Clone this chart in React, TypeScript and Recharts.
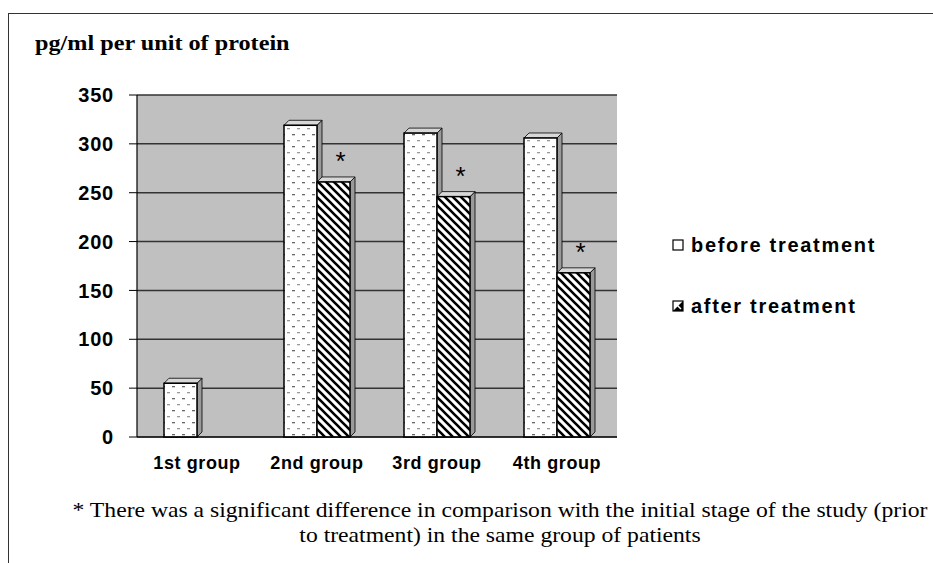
import React from 'react';
import { BarChart, Bar, XAxis, YAxis, CartesianGrid, LabelList } from 'recharts';

const categories = ['1st group', '2nd group', '3rd group', '4th group'];
const beforeValues = [55, 319, 311, 306];
const afterValues = [0, 261, 246, 168];
const significant = [false, true, true, true];
const yTicks = [0, 50, 100, 150, 200, 250, 300, 350];

const data = categories.map((name, i) => ({
  name,
  before: beforeValues[i],
  after: afterValues[i],
}));

const SANS = '"Liberation Sans", Arial, sans-serif';
const SERIF = '"Liberation Serif", "Times New Roman", serif';

const Bar3D = (props: any) => {
  const { x, y, width, height, fill } = props;
  if (!height || height < 1) return null;
  const d = 5;
  return (
    <g>
      <polygon
        points={`${x + width},${y} ${x + width + d},${y - d} ${x + width + d},${y + height - d} ${x + width},${y + height}`}
        fill="#9a9a9a"
        stroke="#000"
        strokeWidth={0.8}
      />
      <polygon
        points={`${x},${y} ${x + d},${y - d} ${x + width + d},${y - d} ${x + width},${y}`}
        fill="#d8d8d8"
        stroke="#000"
        strokeWidth={0.8}
      />
      <rect x={x} y={y} width={width} height={height} fill={fill} stroke="#000" strokeWidth={1.5} />
    </g>
  );
};

const Star = (props: any) => {
  const { x, y, width, index } = props;
  if (!significant[index]) return null;
  return (
    <text
      x={x + width / 2 + 7}
      y={y - 12}
      textAnchor="middle"
      fontFamily={SANS}
      fontSize={26}
      fill="#000"
    >
      *
    </text>
  );
};

const LegendBox = () => (
  <div
    style={{
      position: 'absolute',
      left: 672,
      top: 233,
      fontFamily: SANS,
      fontWeight: 'bold',
      fontSize: 20,
      letterSpacing: 1.7,
      color: '#000',
      whiteSpace: 'nowrap',
    }}
  >
    <div style={{ display: 'flex', alignItems: 'center', height: 24 }}>
      <svg width={13} height={13} style={{ marginRight: 6 }}>
        <rect x={1} y={1} width={10} height={10} fill="#fff" stroke="#000" strokeWidth={1.2} />
      </svg>
      before treatment
    </div>
    <div style={{ display: 'flex', alignItems: 'center', height: 24, marginTop: 37 }}>
      <svg width={13} height={13} style={{ marginRight: 6 }}>
        <rect x={1} y={1} width={10} height={10} fill="#fff" stroke="#000" strokeWidth={1.2} />
        <polygon points="1,11 11,1 11,11" fill="#000" />
        <line x1={3} y1={3} x2={9} y2={9} stroke="#fff" strokeWidth={1.5} />
      </svg>
      after treatment
    </div>
  </div>
);

export default function App() {
  return (
    <div style={{ position: 'absolute', left: 0, top: 0, width: 933, height: 563, background: '#fff', overflow: 'hidden' }}>
      <div
        style={{
          position: 'absolute',
          left: 8,
          top: 13,
          width: 940,
          height: 560,
          borderTop: '1.5px solid #333',
          borderLeft: '1.5px solid #333',
        }}
      />
      <div
        style={{
          position: 'absolute',
          left: 35,
          top: 30,
          fontFamily: SERIF,
          fontWeight: 'bold',
          fontSize: 22,
          color: '#000',
          whiteSpace: 'nowrap',
          transform: 'scaleX(1.1)',
          transformOrigin: 'left center',
        }}
      >
        pg/ml per unit of protein
      </div>
      <BarChart
        width={933}
        height={563}
        data={data}
        margin={{ top: 95, right: 316, bottom: 96, left: 77 }}
        barGap={0}
        barSize={33}
        style={{ position: 'absolute', left: 0, top: 0 }}
      >
        <defs>
          <pattern id="dots" patternUnits="userSpaceOnUse" width={10} height={12}>
            <rect width={10} height={12} fill="#fff" />
            <rect x={2} y={2} width={3} height={1.3} fill="#666" />
            <rect x={7} y={8} width={3} height={1.3} fill="#999" />
          </pattern>
          <pattern id="stripes" patternUnits="userSpaceOnUse" width={8} height={8}>
            <rect width={8} height={8} fill="#fff" />
            <path d="M-2,-2 L10,10 M-2,6 L2,10 M6,-2 L10,2" stroke="#000" strokeWidth={2.6} />
          </pattern>
        </defs>
        <CartesianGrid vertical={false} fill="#c0c0c0" stroke="#333" strokeWidth={1.5} />
        <XAxis
          dataKey="name"
          tickLine={false}
          interval={0}
          axisLine={{ stroke: '#000', strokeWidth: 1.2 }}
          tick={{ fontFamily: SANS, fontWeight: 'bold', fontSize: 18, fill: '#000', letterSpacing: 0.6 }}
          tickMargin={13}
        />
        <YAxis
          width={60}
          domain={[0, 350]}
          ticks={yTicks}
          interval={0}
          tickSize={8}
          tickMargin={15}
          axisLine={{ stroke: '#000', strokeWidth: 1.2 }}
          tickLine={{ stroke: '#000' }}
          tick={{ fontFamily: SANS, fontWeight: 'bold', fontSize: 20, fill: '#000', letterSpacing: 0.8 }}
        />
        <Bar dataKey="before" name="before treatment" fill="url(#dots)" shape={<Bar3D />} isAnimationActive={false} />
        <Bar dataKey="after" name="after treatment" fill="url(#stripes)" shape={<Bar3D />} isAnimationActive={false}>
          <LabelList dataKey="after" content={<Star />} />
        </Bar>
      </BarChart>
      <LegendBox />
      <div
        style={{
          position: 'absolute',
          left: 60,
          top: 497,
          width: 880,
          textAlign: 'center',
          fontFamily: SERIF,
          fontSize: 22,
          lineHeight: '25px',
          color: '#000',
          whiteSpace: 'nowrap',
          transform: 'scaleX(1.075)',
          transformOrigin: 'center center',
        }}
      >
        * There was a significant difference in comparison with the initial stage of the study (prior
        <br />
        to treatment) in the same group of patients
      </div>
    </div>
  );
}
